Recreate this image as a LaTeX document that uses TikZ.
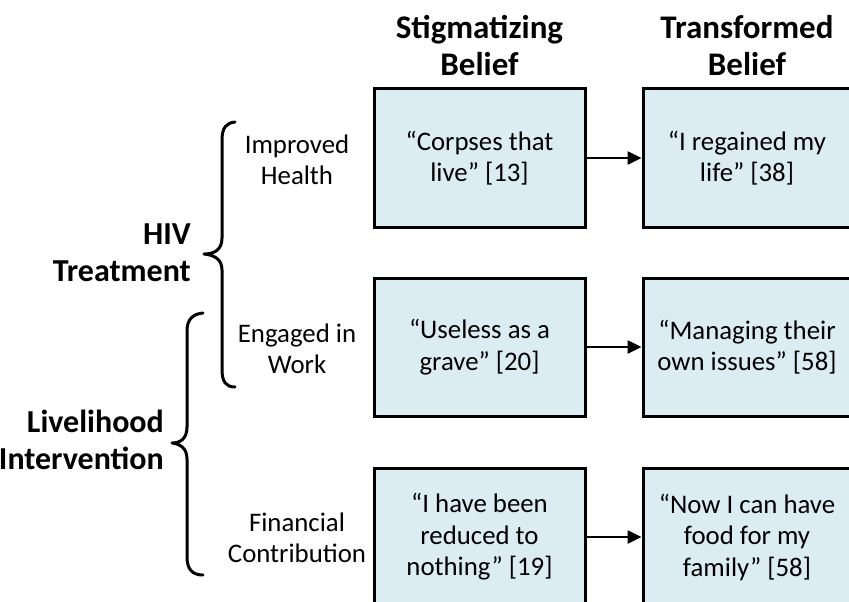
\documentclass[tikz,border=0pt]{standalone}
\usepackage{fontspec}
\setmainfont{Carlito}
\usetikzlibrary{arrows.meta}
\definecolor{boxfill}{RGB}{219,237,243}
\begin{document}
\begin{tikzpicture}[x=1pt,y=-1pt,
  beliefbox/.style={draw=black,line width=3pt,fill=boxfill,minimum height=138pt,inner sep=0pt,align=center,font=\fontsize{26.8}{31.5}\selectfont},
  sbox/.style={beliefbox,minimum width=211pt},
  tbox/.style={beliefbox,minimum width=208pt},
  lab/.style={align=center,inner sep=0pt,font=\fontsize{26.8}{31}\selectfont},
  grp/.style={align=right,inner sep=0pt,anchor=east,font=\fontsize{32}{37}\selectfont\bfseries},
  hdr/.style={align=center,inner sep=0pt,font=\fontsize{33}{37}\selectfont\bfseries},
  arr/.style={line width=2.5pt,-{Triangle[length=14pt,width=13pt]}},
  bracestyle/.style={line width=3pt,line cap=round,line join=round}]
\useasboundingbox (0,0) rectangle (849,602);
\clip (0,0) rectangle (849,602);
% headers
\node[hdr] (h1) at (479.5,46) {Stigmatizing\\Belief};
\node[hdr] (h2) at (747,46) {Transformed\\Belief};
% boxes
\node[sbox] (s1) at (479.5,158) {“Corpses that\\live” [13]};
\node[sbox] (s2) at (479.5,347) {“Useless as a\\grave” [20]};
\node[sbox] (s3) at (479.5,537) {“I have been\\reduced to\\nothing” [19]};
\node[tbox] (t1) at (747,158) {“I regained my\\life” [38]};
\node[tbox] (t2) at (747,347) {“Managing their\\own issues” [58]};
\node[tbox] (t3) at (747,537) {“Now I can have\\food for my\\family” [58]};
% arrows
\draw[arr] (s1) -- (t1);
\draw[arr] (s2) -- (t2);
\draw[arr] (s3) -- (t3);
% left labels
\node[lab] (l1) at (297,160) {Improved\\Health};
\node[lab] (l2) at (297,349) {Engaged in\\Work};
\node[lab] (l3) at (297,538) {Financial\\Contribution};
% group labels
\node[grp] (g1) at (191,253) {HIV\\Treatment};
\node[grp] (g2) at (164,440) {Livelihood\\Intervention};
% braces
\draw[bracestyle] (235,122) .. controls (226,123) and (222,128) .. (222,140)
  -- (222,238) .. controls (222,250) and (214,254) .. (204,254)
  .. controls (214,255) and (222,259) .. (222,270)
  -- (222,369) .. controls (222,382) and (226,387) .. (235,387);
\draw[bracestyle] (203,313) .. controls (193,314) and (187,319) .. (187,331)
  -- (187,427) .. controls (187,439) and (180,443) .. (172,443)
  .. controls (180,444) and (187,448) .. (187,459)
  -- (187,557) .. controls (187,570) and (193,575) .. (203,575);
\end{tikzpicture}
\end{document}
